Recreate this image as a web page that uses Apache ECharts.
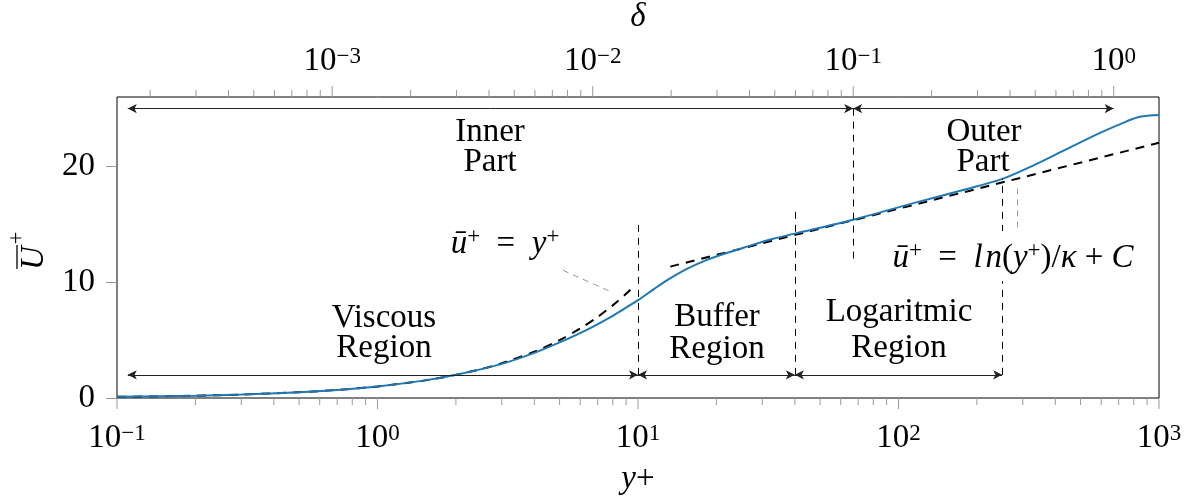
<!DOCTYPE html>
<html>
<head>
<meta charset="utf-8">
<script src="https://cdn.jsdelivr.net/npm/echarts@6/dist/echarts.min.js"></script>
<style>
html, body { margin: 0; padding: 0; background: #fff; }
#chart { width: 1197px; height: 497px; }
</style>
</head>
<body>
<div id="chart"></div>
<script>
const FONT = '"Liberation Serif", "DejaVu Serif", serif';

// Friction Reynolds number: links wall units y+ to outer scaling δ = y+ / Re_tau
const RE_TAU = 670;

// Axis ranges and tick labels
const yPlusRange = [0.1, 1000];
const uRange = [0, 26];
const bottomTickLabels = [0.1, 1, 10, 100, 1000];
const topTickLabels = [0.001, 0.01, 0.1, 1];
const yTickLabels = [0, 10, 20];
const minorMantissas = [2, 3, 4, 5, 6, 7, 8, 9];

// Mean streamwise velocity profile U+ against y+
const profileY = [0.1, 0.2, 0.3, 0.5, 0.7, 1, 1.5, 2, 3, 4, 5, 6.5, 8, 9, 10, 11.5, 13, 15.4, 18, 20.7, 24, 27.7, 33, 40, 67, 117, 183, 252, 330, 442, 594, 752, 845, 1000];
const profileU = [0.1, 0.2, 0.3, 0.5, 0.7, 1.0, 1.5, 2.0, 2.95, 3.9, 4.8, 6.0, 7.1, 7.8, 8.45, 9.4, 10.2, 11.15, 11.85, 12.35, 12.8, 13.25, 13.75, 14.2, 15.4, 16.9, 18.05, 18.95, 20.1, 21.5, 22.9, 23.9, 24.3, 24.45];

// Viscous sublayer law u+ = y+
const viscousY = [0.1, 0.2, 0.3, 0.5, 0.7, 1, 1.5, 2, 2.5, 3, 4, 5, 6, 7, 8, 9, 9.6];
const viscousU = [0.1, 0.2, 0.3, 0.5, 0.7, 1, 1.5, 2, 2.5, 3, 4, 5, 6, 7, 8, 9, 9.6];

// Log law u+ = ln(y+)/κ + C (straight on the semi-log axes)
const logLawY = [13.3, 1000];
const logLawU = [11.35, 22.05];

// Region boundaries in y+
const arrowStart = 0.11;
const viscousEnd = 10;
const bufferEnd = 40;
const logEnd = 250;
const innerEnd = 67;   // δ = 0.1
const outerEnd = 670;  // δ = 1

// Heights (in U+) of the bracket arrows and dashed markers
const innerOuterArrowU = 25;
const regionArrowU = 2;
const viscousMarkTop = 15.05;
const bufferMarkTop = 16.4;
const innerMarkBottom = 12.05;
const logMarkTop = 18.95;

const zip = (xs, ys) => xs.map((x, i) => [x, ys[i]]);

const supLabel = v => {
  const e = Math.round(Math.log10(v));
  return '{b|10}{s|' + (e < 0 ? '\u2212' + (-e) : String(e)) + '}';
};
const labelRich = {
  b: { fontFamily: FONT, fontSize: 33, lineHeight: 32, color: '#000' },
  s: { fontFamily: FONT, fontSize: 23, lineHeight: 18, verticalAlign: 'top', color: '#000' }
};

// Decade tick positions (major + minor) within a range
function logTicks(lo, hi) {
  const major = [], minor = [];
  for (let e = Math.floor(Math.log10(lo)); e <= Math.ceil(Math.log10(hi)); e++) {
    const d = Math.pow(10, e);
    if (d >= lo * 0.9999 && d <= hi * 1.0001) major.push(d);
    minorMantissas.forEach(m => {
      const v = m * d;
      if (v > lo && v < hi) minor.push(v);
    });
  }
  return { major, minor };
}

const deltaRange = [yPlusRange[0] / RE_TAU, yPlusRange[1] / RE_TAU];
const bottomTicks = logTicks(yPlusRange[0], yPlusRange[1]);
const topTicks = logTicks(deltaRange[0], deltaRange[1]);

function tickSeries(xAxisIndex, ticks, uAt, dir) {
  const data = ticks.major.map(v => [v, uAt, 11 * dir]).concat(ticks.minor.map(v => [v, uAt, 7 * dir]));
  return {
    type: 'custom',
    xAxisIndex: xAxisIndex,
    yAxisIndex: 0,
    clip: false,
    silent: true,
    z: 1,
    data: data,
    renderItem: function (params, api) {
      const p = api.coord([api.value(0), api.value(1)]);
      const len = api.value(2);
      return {
        type: 'line',
        shape: { x1: p[0], y1: p[1], x2: p[0], y2: p[1] + len },
        style: { stroke: '#9a9a9a', lineWidth: 1 }
      };
    }
  };
}

const seg = (x1, y1, x2, y2) => [{ coord: [x1, y1] }, { coord: [x2, y2] }];

const chart = echarts.init(document.getElementById('chart'), null, { renderer: 'canvas' });

const textStyle = (text, x, y, extra) => Object.assign({
  type: 'text', x: x, y: y, z: 100,
  style: Object.assign({ text: text, fontFamily: FONT, fontSize: 33, fill: '#000', align: 'center', verticalAlign: 'middle' }, extra || {})
});

const mathRich = {
  i: { fontFamily: FONT, fontSize: 33, fontStyle: 'italic', color: '#000', lineHeight: 38 },
  n: { fontFamily: FONT, fontSize: 33, color: '#000', lineHeight: 38 },
  s: { fontFamily: FONT, fontSize: 23, color: '#000', verticalAlign: 'top', lineHeight: 14 }
};
const SP = '\u2005';

chart.setOption({
  animation: false,
  backgroundColor: '#fff',
  grid: { left: 117, top: 97, width: 1042, height: 301, show: true, borderColor: '#000', borderWidth: 1, backgroundColor: 'transparent' },
  xAxis: [
    {
      type: 'log', logBase: 10, min: yPlusRange[0], max: yPlusRange[1], position: 'bottom',
      axisLine: { show: false }, axisTick: { show: false }, splitLine: { show: false },
      axisLabel: { customValues: bottomTickLabels, formatter: supLabel, rich: labelRich, margin: 24 }
    },
    {
      type: 'log', logBase: 10, min: deltaRange[0], max: deltaRange[1], position: 'top',
      axisLine: { show: false }, axisTick: { show: false }, splitLine: { show: false },
      axisLabel: { customValues: topTickLabels, formatter: supLabel, rich: labelRich, margin: 20 }
    }
  ],
  yAxis: {
    type: 'value', min: uRange[0], max: uRange[1],
    axisLine: { show: false }, splitLine: { show: false },
    axisTick: { show: true, customValues: yTickLabels, length: 11, lineStyle: { color: '#9a9a9a' } },
    axisLabel: { customValues: yTickLabels, fontFamily: FONT, fontSize: 33, color: '#000', margin: 22 }
  },
  series: [
    tickSeries(0, bottomTicks, uRange[0], 1),
    tickSeries(1, topTicks, uRange[1], -1),
    {
      name: 'viscous law', type: 'line', smooth: 0.3, symbol: 'none', z: 3,
      data: zip(viscousY, viscousU),
      lineStyle: { color: '#000', width: 2, type: [9, 7] }
    },
    {
      name: 'log law', type: 'line', symbol: 'none', z: 3,
      data: zip(logLawY, logLawU),
      lineStyle: { color: '#000', width: 2, type: [9, 7] }
    },
    {
      name: 'profile', type: 'line', smooth: 0.3, symbol: 'none', z: 4,
      data: zip(profileY, profileU),
      lineStyle: { color: '#1f77b4', width: 2 }
    },
    {
      name: 'brackets', type: 'line', data: [], z: 2,
      markLine: {
        silent: true, animation: false,
        symbol: ['arrow', 'arrow'], symbolSize: [7, 9],
        label: { show: false },
        lineStyle: { color: '#222', width: 1, type: 'solid' },
        emphasis: { disabled: true },
        data: [
          seg(arrowStart, innerOuterArrowU, innerEnd, innerOuterArrowU),
          seg(innerEnd, innerOuterArrowU, outerEnd, innerOuterArrowU),
          seg(arrowStart, regionArrowU, viscousEnd, regionArrowU),
          seg(viscousEnd, regionArrowU, bufferEnd, regionArrowU),
          seg(bufferEnd, regionArrowU, logEnd, regionArrowU)
        ]
      }
    },
    {
      name: 'region limits', type: 'line', data: [], z: 2,
      markLine: {
        silent: true, animation: false, symbol: ['none', 'none'],
        label: { show: false },
        lineStyle: { color: '#000', width: 1, type: [7, 6] },
        emphasis: { disabled: true },
        data: [
          seg(viscousEnd, regionArrowU, viscousEnd, viscousMarkTop),
          seg(bufferEnd, regionArrowU, bufferEnd, bufferMarkTop),
          seg(innerEnd, innerOuterArrowU, innerEnd, innerMarkBottom),
          seg(logEnd, regionArrowU, logEnd, logMarkTop)
        ]
      }
    },
    {
      name: 'label pins', type: 'line', data: [], z: 2,
      markLine: {
        silent: true, animation: false, symbol: ['none', 'none'],
        label: { show: false },
        lineStyle: { color: '#999', width: 1, type: [6, 5] },
        emphasis: { disabled: true },
        data: [
          seg(5.15, 11.03, 7.94, 9.14),
          seg(285, 18.1, 285, 14.6)
        ]
      }
    }
  ],
  graphic: [
    textStyle('Inner', 490, 132),
    textStyle('Part', 490, 162),
    textStyle('Outer', 984, 132),
    textStyle('Part', 983, 162),
    textStyle('Viscous', 384, 318),
    textStyle('Region', 384, 348),
    textStyle('Buffer', 717, 317),
    textStyle('Region', 717, 349),
    textStyle('Logaritmic', 899, 312),
    textStyle('Region', 899, 348),
    {
      type: 'text', x: 505, y: 244, z: 100,
      style: { text: '{i|ū}{s|+}{n|' + SP + ' = ' + SP + '}{i|y}{s|+}', rich: mathRich, align: 'center', verticalAlign: 'middle' }
    },
    {
      type: 'text', x: 1013, y: 256, z: 100,
      style: {
        text: '{i|ū}{s|+}{n|' + SP + ' = ' + SP + '}{i|l' + '\u200a' + 'n}{n|(}{i|y}{s|+}{n|)/}{i|κ}{n|' + SP + '+' + SP + '}{i|C}', rich: mathRich,
        align: 'center', verticalAlign: 'middle', backgroundColor: '#fff', padding: [8, 3, 4, 3]
      }
    },
    textStyle('δ', 638, 17, { fontStyle: 'italic' }),
    {
      type: 'text', x: 638, y: 479, z: 100,
      style: { text: '{i|y}{n|+}', rich: mathRich, align: 'center', verticalAlign: 'middle' }
    },
    {
      type: 'group', x: 46, y: 258, rotation: Math.PI / 2, z: 100,
      children: [
        { type: 'text', x: 0, y: -12, style: { text: 'U', fontFamily: FONT, fontSize: 33, fontStyle: 'italic', fill: '#000', align: 'center', verticalAlign: 'middle' } },
        { type: 'line', shape: { x1: -11, y1: -29, x2: 13, y2: -29 }, style: { stroke: '#000', lineWidth: 1.3 } },
        { type: 'text', x: 20, y: -29, style: { text: '+', fontFamily: FONT, fontSize: 23, fill: '#000', align: 'center', verticalAlign: 'middle' } }
      ]
    }
  ]
});
</script>
</body>
</html>
